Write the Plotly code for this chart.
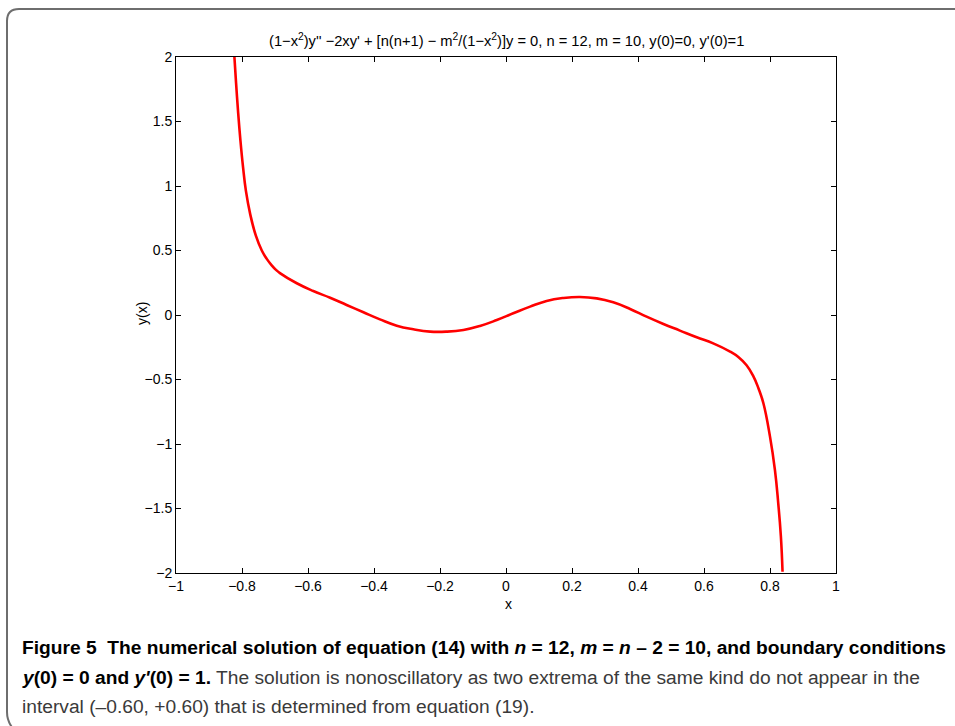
import plotly.graph_objects as go

# Data
x_vals = [-0.823, -0.818, -0.812, -0.805, -0.797, -0.788, -0.775, -0.758, -0.740, -0.725,
          -0.710, -0.697, -0.685, -0.634, -0.584, -0.533, -0.483, -0.432, -0.382, -0.331,
          -0.281, -0.230, -0.180, -0.129, -0.079, -0.028, 0.022, 0.073, 0.123, 0.174,
          0.224, 0.275, 0.325, 0.376, 0.426, 0.477, 0.527, 0.578, 0.628, 0.679,
          0.704, 0.729, 0.749, 0.765, 0.780, 0.800, 0.815, 0.825, 0.833, 0.838]
y_vals = [2.0, 1.80, 1.58, 1.36, 1.15, 0.96, 0.78, 0.615, 0.500, 0.435,
          0.385, 0.350, 0.325, 0.246, 0.186, 0.134, 0.078, 0.021, -0.034, -0.083,
          -0.111, -0.129, -0.129, -0.116, -0.085, -0.039, 0.013, 0.065, 0.109, 0.132,
          0.140, 0.129, 0.098, 0.047, -0.013, -0.070, -0.121, -0.173, -0.220, -0.284,
          -0.326, -0.390, -0.472, -0.568, -0.684, -0.943, -1.202, -1.460, -1.718, -1.99]

x_ticks = [-1, -0.8, -0.6, -0.4, -0.2, 0, 0.2, 0.4, 0.6, 0.8, 1]
y_ticks = [-2, -1.5, -1, -0.5, 0, 0.5, 1, 1.5, 2]

title_text = ("(1\u2212x<sup>2</sup>)y'' \u22122xy' + [n(n+1) \u2212 m<sup>2</sup>/(1\u2212x<sup>2</sup>)]y = 0, "
              "n = 12, m = 10, y(0)=0, y'(0)=1")
caption_lines = [
    "<span style='color:black'><b>Figure 5  The numerical solution of equation (14) with <i>n</i> = 12, <i>m</i> = <i>n</i> \u2013 2 = 10, and boundary conditions</b></span>",
    "<span style='color:black'><b><i>y</i>(0) = 0 and <i>y'</i>(0) = 1.</b></span> The solution is nonoscillatory as two extrema of the same kind do not appear in the",
    "interval (\u20130.60, +0.60) that is determined from equation (19).",
]

W, H = 955, 726
L, R, T, B = 176, 836, 57, 573


def px(xp):
    return (xp - L) / (R - L)


def py(yp):
    return (B - yp) / (B - T)


fig = go.Figure()
fig.add_trace(go.Scatter(x=x_vals, y=y_vals, mode="lines",
                         line=dict(color="#ff0000", width=2.6, shape="spline", smoothing=1.3),
                         hoverinfo="skip", showlegend=False))

axis_common = dict(showgrid=False, zeroline=False, showline=True, linecolor="black", linewidth=1,
                   mirror="ticks", ticks="inside", ticklen=5, tickcolor="black", tickwidth=1,
                   tickfont=dict(family="Liberation Sans, Arial", size=14, color="black"))

fig.update_layout(
    width=W, height=H,
    margin=dict(l=L, r=W - R, t=T, b=H - B),
    paper_bgcolor="white", plot_bgcolor="white",
    xaxis=dict(range=[-1, 1], tickvals=x_ticks, **axis_common),
    yaxis=dict(range=[-2, 2], tickvals=y_ticks, **axis_common),
)

# title
fig.add_annotation(text=title_text, x=px(506), y=py(40), xref="paper", yref="paper",
                   showarrow=False, xanchor="center", yanchor="middle",
                   font=dict(family="Liberation Sans, Arial", size=14.7, color="black"))
# axis labels
fig.add_annotation(text="x", x=px(508), y=py(604), xref="paper", yref="paper",
                   showarrow=False, xanchor="center", yanchor="middle",
                   font=dict(family="Liberation Sans, Arial", size=14, color="black"))
fig.add_annotation(text="y(x)", x=px(142), y=py(314), xref="paper", yref="paper",
                   showarrow=False, xanchor="center", yanchor="middle", textangle=-90,
                   font=dict(family="Liberation Sans, Arial", size=14, color="black"))

# caption
cap_y = [647, 677, 706]
for line, yy in zip(caption_lines, cap_y):
    fig.add_annotation(text=line, x=px(20), y=py(yy), xref="paper", yref="paper",
                       showarrow=False, xanchor="left", yanchor="middle", align="left",
                       font=dict(family="Liberation Sans, Arial", size=19.2, color="#3a3a3a"))

# rounded border frame
x0, y0 = px(7), py(9)
rx, ry = 12 / (R - L), 12 / (B - T)
x_right = px(960)
y_bot = py(730)
path = (f"M {x0 + rx*0.6} {y_bot} Q {x0} {py(722)} {x0} {py(712)} L {x0} {y0 - ry} "
        f"Q {x0} {y0} {x0 + rx} {y0} L {x_right} {y0}")
fig.add_shape(type="path", path=path, xref="paper", yref="paper",
              line=dict(color="#6e6e6e", width=2))

fig.write_html("out.html", config={"displayModeBar": False},
               post_script="document.body.style.margin='0';document.body.style.overflow='hidden';")
